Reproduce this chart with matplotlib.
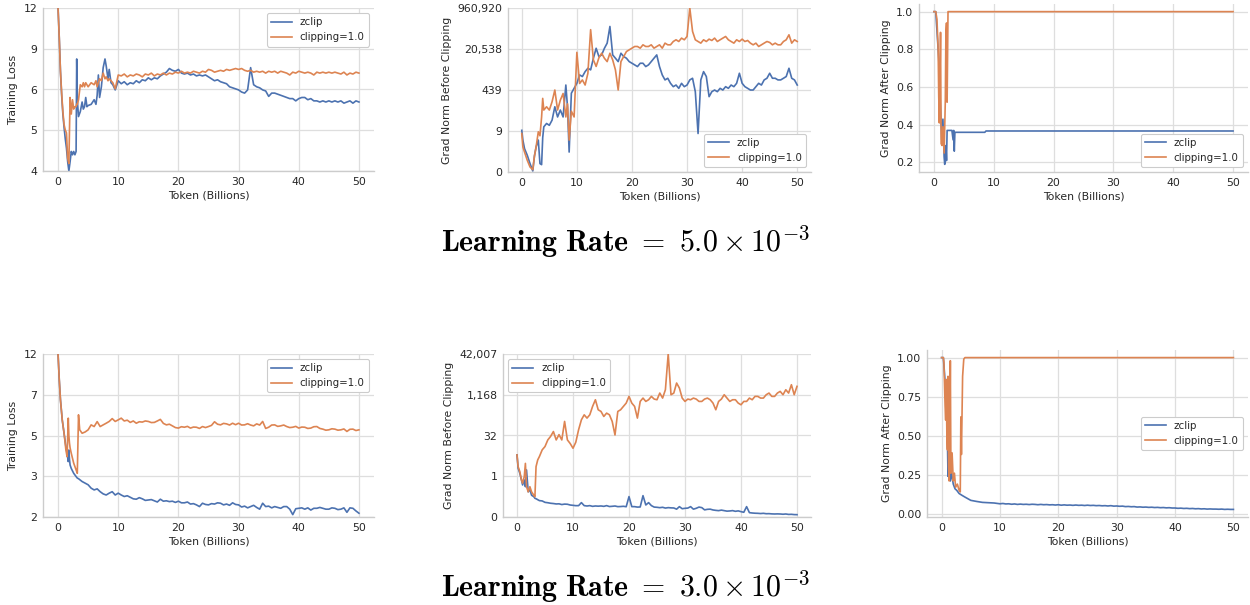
import matplotlib
matplotlib.use("Agg")
import matplotlib.pyplot as plt
import numpy as np
from matplotlib.ticker import NullLocator

# ---------------- data ----------------
LATE_TOKENS = [10.5, 11.0, 11.5, 12.0, 12.5, 13.0, 13.5, 14.0, 14.5, 15.0,
               15.5, 16.0, 16.5, 17.0, 17.5, 18.0, 18.5, 19.0, 19.5, 20.0,
               20.5, 21.0, 21.5, 22.0, 22.5, 23.0, 23.5, 24.0, 24.5, 25.0,
               25.5, 26.0, 26.5, 27.0, 27.5, 28.0, 28.5, 29.0, 29.5, 30.0,
               30.5, 31.0, 31.5, 32.0, 32.5, 33.0, 33.5, 34.0, 34.5, 35.0,
               35.5, 36.0, 36.5, 37.0, 37.5, 38.0, 38.5, 39.0, 39.5, 40.0,
               40.5, 41.0, 41.5, 42.0, 42.5, 43.0, 43.5, 44.0, 44.5, 45.0,
               45.5, 46.0, 46.5, 47.0, 47.5, 48.0, 48.5, 49.0, 49.5, 50.0]

# --- LR 5e-3 : training loss ---
p1_tok_early = [0, 0.2, 0.4, 0.6, 0.8, 1.0, 1.2, 1.4, 1.6, 1.8, 2.0, 2.2, 2.4, 2.6, 2.8,
                3.0, 3.1, 3.2, 3.4, 3.7, 4.0, 4.2, 4.4, 4.6, 4.8, 5.0, 5.5, 6.0, 6.3,
                6.5, 6.7, 6.9, 7.2, 7.5, 7.8, 8.0, 8.3, 8.5, 8.8, 9.1, 9.5, 10.0]
p1_clip_early = [11.8, 9.5, 7.4, 6.3, 5.5, 5.0, 4.8, 4.7, 3.9, 3.75, 6.1, 5.4, 6.0, 5.6, 5.7,
                 5.7, 5.8, 5.8, 6.0, 6.7, 6.6, 6.8, 6.6, 6.8, 6.7, 6.6, 6.8, 6.7, 6.9,
                 6.6, 6.8, 7.0, 6.9, 7.3, 7.0, 7.1, 6.9, 7.0, 6.9, 6.8, 6.5, 7.2]
p1_zclip_early = [11.8, 9.5, 7.4, 6.2, 5.4, 4.9, 4.5, 4.2, 3.8, 3.55, 3.8, 4.1, 4.0, 4.1, 4.0,
                  4.1, 8.1, 6.0, 5.3, 5.5, 5.9, 5.6, 5.7, 6.1, 5.7, 5.75, 5.8, 6.0, 5.8,
                  6.2, 7.2, 6.1, 6.6, 7.6, 8.1, 7.7, 7.0, 7.5, 6.8, 6.7, 6.45, 6.9]
p1_clip_late = [7.15, 7.25, 7.1, 7.2, 7.15, 7.25, 7.2, 7.1, 7.25, 7.2,
                7.3, 7.15, 7.25, 7.2, 7.3, 7.2, 7.3, 7.25, 7.35, 7.3,
                7.4, 7.3, 7.35, 7.3, 7.4, 7.35, 7.3, 7.4, 7.35, 7.5,
                7.45, 7.35, 7.4, 7.45, 7.4, 7.5, 7.45, 7.5, 7.55, 7.5,
                7.55, 7.45, 7.4, 7.45, 7.35, 7.4, 7.35, 7.4, 7.3, 7.4,
                7.35, 7.4, 7.3, 7.4, 7.35, 7.3, 7.2, 7.35, 7.3, 7.4,
                7.35, 7.3, 7.35, 7.3, 7.2, 7.35, 7.3, 7.35, 7.3, 7.35,
                7.3, 7.35, 7.3, 7.25, 7.35, 7.2, 7.3, 7.25, 7.35, 7.3]
p1_zclip_late = [6.75, 6.85, 6.7, 6.8, 6.75, 6.9, 6.8, 6.95, 6.9, 7.05,
                 6.95, 7.05, 7.0, 7.15, 7.25, 7.35, 7.55, 7.45, 7.4, 7.5,
                 7.3, 7.25, 7.3, 7.2, 7.25, 7.15, 7.2, 7.15, 7.2, 7.1,
                 7.0, 6.9, 6.95, 6.85, 6.8, 6.75, 6.6, 6.55, 6.5, 6.45,
                 6.35, 6.3, 6.45, 7.6, 6.7, 6.6, 6.55, 6.45, 6.4, 6.15,
                 6.3, 6.3, 6.25, 6.2, 6.15, 6.1, 6.05, 6.05, 5.95, 6.05,
                 6.1, 6.1, 6.0, 6.05, 5.95, 5.95, 5.9, 5.95, 5.9, 5.95,
                 5.9, 5.95, 5.9, 5.95, 5.85, 5.9, 5.95, 5.85, 5.95, 5.9]
p1_ylim = (3.55, 11.79)
p1_yticklabels = ["4", "5", "6", "9", "12"]

# --- LR 5e-3 : grad norm before clipping ---
p2_tok_early = [0, 0.2, 0.5, 1.0, 1.5, 2.0, 2.3, 2.6, 3.0, 3.3, 3.6, 3.8, 4.0, 4.5, 5.0,
                5.5, 6.0, 6.5, 7.0, 7.5, 8.0, 8.3, 8.6, 9.0, 9.5, 10.0]
p2_clip_early = [7.4, 2.1, 1.3, 0.6, 0.32, 0.25, 0.9, 2.1, 8.7, 6.0, 35, 200, 67, 91, 67,
                 146, 438, 67, 170, 317, 35, 120, 4.0, 60, 35, 15000]
p2_zclip_early = [10, 4.0, 1.8, 0.96, 0.44, 0.22, 0.9, 2.1, 4.0, 0.44, 0.4, 5, 13.9, 19, 16,
                  26, 91, 35, 67, 35, 700, 90, 1.3, 325, 515, 820]
p2_clip_late = [810, 1130, 700, 2100, 126000, 7400, 4000, 9000, 13800, 8600,
                6300, 13800, 7400, 2900, 440, 6300, 10100, 16200, 19000, 22200,
                26000, 26000, 22200, 30400, 26000, 26000, 30400, 22200, 26000, 30400,
                22200, 35600, 30400, 30400, 41500, 48700, 41500, 57000, 48700, 66500,
                960920, 107000, 48700, 41500, 35600, 48700, 41500, 51800, 45700, 57000,
                41500, 48700, 57000, 66500, 48700, 41500, 35600, 48700, 41500, 51800,
                41500, 45700, 35600, 30400, 35600, 26000, 30400, 35600, 41500, 38000,
                30400, 35600, 30400, 30400, 41500, 48700, 77800, 35600, 48700, 41500]
p2_zclip_late = [1800, 1550, 2460, 3370, 2900, 8650, 22000, 10100, 11800, 22000,
                 35600, 170000, 11800, 8650, 6300, 13800, 10100, 8650, 6300, 5400,
                 4620, 3950, 5400, 5400, 3950, 4620, 6300, 8650, 11800, 3950,
                 1800, 1130, 1320, 822, 600, 700, 513, 822, 600, 700,
                 1130, 1320, 375, 7.4, 1130, 2460, 1550, 235, 375, 438,
                 375, 513, 438, 600, 513, 700, 600, 822, 2110, 822,
                 600, 513, 438, 438, 600, 822, 700, 1130, 1320, 2110,
                 1320, 1320, 1130, 1130, 1320, 1550, 3370, 1320, 1130, 700]
p2_ylim = (0.2005, 960920)
p2_yticklabels = ["0", "9", "439", "20,538", "960,920"]

# --- LR 5e-3 : grad norm after clipping ---
p3_clip_tok = [0, 0.3, 0.5, 0.7, 0.8, 0.9, 1.0, 1.1, 1.2, 1.35, 1.5, 1.7, 1.9, 2.0, 2.1,
               2.2, 2.35, 2.5, 50]
p3_clip = [1.0, 1.0, 0.96, 0.8, 0.55, 0.41, 0.62, 0.89, 0.30, 0.29, 0.39, 0.25, 0.53, 0.89,
           0.94, 0.52, 1.0, 1.0, 1.0]
p3_zclip_tok = [0, 0.3, 0.5, 0.8, 1.0, 1.3, 1.5, 1.7, 1.8, 2.0, 2.1, 2.2, 2.5, 3.0, 3.2,
                3.3, 3.4, 3.5, 4.0, 8.5, 8.7, 50]
p3_zclip = [1.0, 1.0, 0.9, 0.75, 0.57, 0.32, 0.43, 0.23, 0.19, 0.29, 0.21, 0.37, 0.37, 0.37,
            0.32, 0.37, 0.26, 0.36, 0.36, 0.36, 0.367, 0.367]
p3_yticks = [0.2, 0.4, 0.6, 0.8, 1.0]

# --- LR 3e-3 : training loss ---
p4_tok_early = [0, 0.2, 0.4, 0.7, 1.0, 1.3, 1.5, 1.7, 1.8, 1.9, 2.0, 2.2, 2.6, 3.0, 3.2,
                3.4, 3.6, 4.0, 4.5, 5.0, 5.5, 6.0, 6.5, 7.0, 7.5, 8.0, 8.5, 9.0, 9.5, 10.0]
p4_clip_early = [11.8, 8.8, 6.96, 5.52, 4.73, 3.91, 3.61, 5.63, 4.6, 4.22, 4.0, 3.75, 3.35,
                 3.10, 2.98, 5.85, 4.92, 4.73, 4.80, 4.92, 5.21, 5.11, 5.41, 5.11, 5.21,
                 5.31, 5.42, 5.60, 5.42, 5.52]
p4_zclip_early = [11.8, 8.8, 6.96, 5.5, 4.73, 4.06, 3.75, 3.41, 3.9, 3.5, 3.28, 3.15, 2.98,
                  2.87, 2.82, 2.8, 2.77, 2.71, 2.66, 2.61, 2.51, 2.46, 2.49, 2.41, 2.35,
                  2.32, 2.37, 2.41, 2.32, 2.37]
p4_clip_late = [5.63, 5.45, 5.5, 5.36, 5.45, 5.31, 5.4, 5.38, 5.45, 5.42,
                5.35, 5.36, 5.45, 5.55, 5.3, 5.21, 5.25, 5.15, 5.05, 5.02,
                5.1, 5.07, 5.12, 5.02, 5.08, 5.07, 5.0, 5.11, 5.05, 5.11,
                5.18, 5.4, 5.25, 5.21, 5.3, 5.27, 5.2, 5.31, 5.22, 5.31,
                5.2, 5.21, 5.28, 5.2, 5.15, 5.27, 5.2, 5.42, 5.0, 5.07,
                5.2, 5.21, 5.12, 5.15, 5.2, 5.11, 5.05, 5.07, 5.12, 5.02,
                5.08, 5.07, 5.0, 5.02, 5.1, 5.11, 5.0, 4.96, 4.9, 4.92,
                4.98, 4.96, 4.9, 4.92, 4.97, 4.83, 4.95, 4.96, 4.88, 4.92]
p4_zclip_late = [2.32, 2.28, 2.3, 2.26, 2.22, 2.21, 2.25, 2.22, 2.18, 2.19,
                 2.2, 2.17, 2.14, 2.21, 2.16, 2.17, 2.15, 2.16, 2.13, 2.16,
                 2.12, 2.12, 2.14, 2.09, 2.1, 2.07, 2.03, 2.11, 2.08, 2.07,
                 2.1, 2.09, 2.12, 2.11, 2.07, 2.09, 2.06, 2.12, 2.08, 2.07,
                 2.02, 2.04, 2.0, 2.03, 2.06, 2.01, 1.97, 2.11, 2.03, 2.04,
                 2.0, 2.03, 2.01, 1.99, 2.03, 2.03, 1.97, 1.85, 1.98, 1.99,
                 2.0, 1.97, 2.0, 1.95, 1.99, 1.99, 2.01, 1.99, 1.97, 1.97,
                 2.0, 1.99, 1.96, 1.97, 2.0, 1.9, 2.0, 1.99, 1.93, 1.88]
p4_ylim = (1.80, 11.8)
p4_yticklabels = ["2", "3", "5", "7", "12"]

# --- LR 3e-3 : grad norm before clipping ---
p5_tok_early = [0, 0.2, 0.5, 0.8, 1.0, 1.3, 1.5, 1.7, 2.0, 2.3, 2.6, 3.0, 3.2, 3.4, 3.7,
                4.0, 4.5, 5.0, 5.5, 6.0, 6.5, 7.0, 7.5, 8.0, 8.5, 9.0, 9.5, 10.0]
p5_clip_early = [5.9, 2.1, 1.36, 0.65, 0.49, 0.88, 2.8, 0.36, 0.23, 0.36, 0.23, 0.17, 0.15,
                 2.1, 3.8, 5.1, 9.2, 12.3, 22, 30, 46, 22, 35, 22, 112, 22, 16, 10.6]
p5_zclip_early = [5.9, 1.83, 1.18, 0.65, 0.42, 0.65, 0.36, 1.58, 0.23, 0.28, 0.17, 0.15,
                  0.13, 0.125, 0.115, 0.106, 0.103, 0.091, 0.088, 0.084, 0.082, 0.079,
                  0.08, 0.075, 0.078, 0.077, 0.072, 0.070]
p5_clip_late = [18, 54, 129, 200, 150, 201, 420, 753, 312, 269,
                173, 232, 201, 112, 34, 269, 312, 419, 561, 1010,
                561, 419, 150, 650, 871, 650, 753, 1010, 798, 753,
                1355, 871, 1815, 42007, 1170, 1355, 3270, 2100, 871, 650,
                798, 753, 871, 798, 650, 650, 798, 871, 753, 561,
                312, 650, 798, 1170, 871, 650, 753, 753, 561, 484,
                650, 650, 871, 753, 1010, 1010, 871, 871, 1170, 1355,
                1010, 1010, 1355, 1570, 1170, 1815, 1355, 2820, 1170, 2440]
p5_zclip_late = [0.068, 0.0682, 0.0888, 0.0682, 0.066, 0.0682, 0.064, 0.0662, 0.065, 0.0662,
                 0.064, 0.0682, 0.063, 0.0643, 0.066, 0.0624, 0.063, 0.0643, 0.062, 0.151,
                 0.0624, 0.0624, 0.06, 0.0606, 0.164, 0.0722, 0.0888, 0.0682, 0.06, 0.0589,
                 0.057, 0.0589, 0.055, 0.0572, 0.056, 0.0555, 0.05, 0.0624, 0.052, 0.0539,
                 0.055, 0.0624, 0.05, 0.0539, 0.06, 0.0572, 0.047, 0.0493, 0.05, 0.0466,
                 0.045, 0.0439, 0.046, 0.0439, 0.042, 0.0427, 0.044, 0.0414, 0.043, 0.0402,
                 0.038, 0.0624, 0.0368, 0.0357, 0.035, 0.0347, 0.034, 0.0347, 0.0335, 0.0337,
                 0.033, 0.0327, 0.033, 0.0327, 0.032, 0.0327, 0.0315, 0.0318, 0.031, 0.0308]
p5_ylim = (0.0251, 42007)
p5_yticklabels = ["0", "1", "32", "1,168", "42,007"]

# --- LR 3e-3 : grad norm after clipping ---
p6_clip_tok = [0, 0.3, 0.4, 0.6, 0.7, 0.8, 0.9, 1.0, 1.1, 1.2, 1.3, 1.4, 1.5, 1.6, 1.8,
               2.0, 2.2, 2.4, 2.7, 3.0, 3.2, 3.3, 3.4, 3.6, 3.8, 4.0, 50]
p6_clip = [1.0, 1.0, 0.97, 0.69, 0.6, 0.86, 0.52, 0.41, 0.88, 0.30, 0.21, 0.47, 0.98, 0.26,
           0.39, 0.21, 0.26, 0.17, 0.19, 0.15, 0.14, 0.62, 0.38, 0.88, 0.99, 1.0, 1.0]
p6_zclip_tok_early = [0, 0.3, 0.5, 0.8, 1.0, 1.1, 1.2, 1.3, 1.5, 1.7, 2.0, 2.3, 2.6, 3.0,
                      3.5, 4.0, 5.0, 6.0, 7.0, 8.0, 9.0, 10.0]
p6_zclip_early = [1.0, 1.0, 0.90, 0.73, 0.47, 0.24, 0.47, 0.30, 0.21, 0.26, 0.19, 0.16,
                  0.15, 0.13, 0.118, 0.107, 0.086, 0.079, 0.073, 0.071, 0.069, 0.064]
p6_zclip_late = [0.066, 0.063, 0.064, 0.061, 0.063, 0.060, 0.062, 0.060, 0.061, 0.059,
                 0.061, 0.060, 0.058, 0.060, 0.058, 0.059, 0.057, 0.058, 0.056, 0.058,
                 0.055, 0.057, 0.055, 0.056, 0.054, 0.056, 0.054, 0.055, 0.053, 0.055,
                 0.053, 0.054, 0.052, 0.053, 0.051, 0.052, 0.050, 0.052, 0.049, 0.050,
                 0.048, 0.049, 0.046, 0.047, 0.045, 0.046, 0.043, 0.044, 0.042, 0.043,
                 0.041, 0.042, 0.040, 0.041, 0.039, 0.040, 0.038, 0.039, 0.037, 0.037,
                 0.035, 0.036, 0.034, 0.035, 0.033, 0.034, 0.032, 0.033, 0.031, 0.032,
                 0.030, 0.031, 0.030, 0.030, 0.029, 0.030, 0.028, 0.029, 0.028, 0.028]
p6_yticks = [0.0, 0.25, 0.5, 0.75, 1.0]

x_ticks = [0, 10, 20, 30, 40, 50]
series_names = ["zclip", "clipping=1.0"]
row_titles = [r"$\mathbf{Learning\ Rate}\ =\ 5.0 \times 10^{-3}$",
              r"$\mathbf{Learning\ Rate}\ =\ 3.0 \times 10^{-3}$"]

# ---------------- style ----------------
TXT = "#262626"
plt.rcParams.update({
    "font.family": "DejaVu Sans",
    "font.size": 7.8,
    "text.color": TXT,
    "axes.labelcolor": TXT,
    "xtick.color": TXT,
    "ytick.color": TXT,
    "axes.edgecolor": "#cccccc",
    "axes.linewidth": 1.0,
    "grid.color": "#dedede",
    "grid.linewidth": 0.9,
    "xtick.major.size": 0, "ytick.major.size": 0,
    "xtick.minor.size": 0, "ytick.minor.size": 0,
    "xtick.major.pad": 4.3, "ytick.major.pad": 4.0,
    "mathtext.fontset": "cm",
})
BLUE = "#4C72B0"
ORANGE = "#DD8452"

fig = plt.figure(figsize=(12.5, 6.05), dpi=100)


def panel(rect, xz, yz, xc, yc, ylabel, loc, log_ylim=None, ylabels=None, yticks=None):
    ax = fig.add_axes(rect)
    ax.plot(xz, yz, color=BLUE, lw=1.2, label=series_names[0])
    ax.plot(xc, yc, color=ORANGE, lw=1.2, label=series_names[1])
    if log_ylim is not None:
        ax.set_yscale("log")
        ax.set_ylim(*log_ylim)
        ax.set_yticks(np.geomspace(log_ylim[0], log_ylim[1], 5))
        ax.set_yticklabels(ylabels)
        ax.yaxis.set_minor_locator(NullLocator())
    else:
        ax.set_yticks(yticks)
    ax.set_xticks(x_ticks)
    ax.grid(True, which="major")
    ax.set_axisbelow(True)
    for s in ("top", "right"):
        ax.spines[s].set_visible(False)
    ax.set_xlabel("Token (Billions)", labelpad=2.5)
    ax.set_ylabel(ylabel, labelpad=4)
    leg = ax.legend(loc=loc, frameon=True, fancybox=True, framealpha=1.0,
                    edgecolor="#cccccc", fontsize=7.4, handlelength=2.0)
    leg.get_frame().set_linewidth(0.8)
    return ax


W, H = 1250.0, 605.0


def rect(l, t, r, b):
    return [l / W, 1 - b / H, (r - l) / W, (b - t) / H]


panel(rect(43, 8, 374, 171), p1_tok_early + LATE_TOKENS, p1_zclip_early + p1_zclip_late,
      p1_tok_early + LATE_TOKENS, p1_clip_early + p1_clip_late,
      "Training Loss", "upper right", p1_ylim, p1_yticklabels)
panel(rect(508, 8, 811, 172), p2_tok_early + LATE_TOKENS, p2_zclip_early + p2_zclip_late,
      p2_tok_early + LATE_TOKENS, p2_clip_early + p2_clip_late,
      "Grad Norm Before Clipping", "lower right", p2_ylim, p2_yticklabels)
panel(rect(919, 4, 1248, 172), p3_zclip_tok, p3_zclip, p3_clip_tok, p3_clip,
      "Grad Norm After Clipping", "lower right", yticks=p3_yticks)

panel(rect(43, 354, 374, 517), p4_tok_early + LATE_TOKENS, p4_zclip_early + p4_zclip_late,
      p4_tok_early + LATE_TOKENS, p4_clip_early + p4_clip_late,
      "Training Loss", "upper right", p4_ylim, p4_yticklabels)
panel(rect(503, 354, 811, 517), p5_tok_early + LATE_TOKENS, p5_zclip_early + p5_zclip_late,
      p5_tok_early + LATE_TOKENS, p5_clip_early + p5_clip_late,
      "Grad Norm Before Clipping", "upper left", p5_ylim, p5_yticklabels)
panel(rect(927, 350, 1248, 517), p6_zclip_tok_early + LATE_TOKENS, p6_zclip_early + p6_zclip_late,
      p6_clip_tok, p6_clip,
      "Grad Norm After Clipping", "center right", yticks=p6_yticks)

fig.text(0.5, 1 - 242 / H, row_titles[0], ha="center", va="center", fontsize=21.5, color="black")
fig.text(0.5, 1 - 587 / H, row_titles[1], ha="center", va="center", fontsize=21.5, color="black")

fig.savefig("out.png", dpi=100)
